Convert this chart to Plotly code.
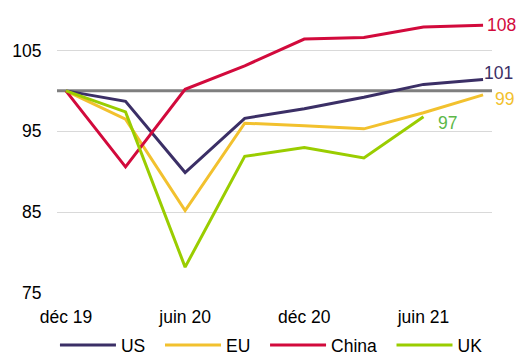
import plotly.graph_objects as go

quarters = ["déc 19", "mar 20", "juin 20", "sep 20", "déc 20", "mar 21", "juin 21", "sep 21"]
tick_idx = [0, 2, 4, 6]
tick_labels = ["déc 19", "juin 20", "déc 20", "juin 21"]

us = [100, 98.7, 89.9, 96.6, 97.8, 99.2, 100.8, 101.4]
eu = [100, 96.5, 85.2, 96.0, 95.7, 95.3, 97.3, 99.5]
china = [100, 90.6, 100.2, 103.1, 106.4, 106.6, 107.9, 108.1]
uk = [100, 97.4, 78.2, 91.9, 93.0, 91.7, 96.8]

colors = {"US": "#3B2F66", "EU": "#F2C12E", "China": "#D20A3C", "UK": "#9ACD00"}
label_colors = {"US": "#3B2F66", "EU": "#F2C12E", "China": "#D20A3C", "UK": "#5CB848"}
series = [("US", us), ("EU", eu), ("China", china), ("UK", uk)]

FONT = "Liberation Sans, Arial, sans-serif"
PAD = "\u00a0\u00a0"
fig = go.Figure()
for name, vals in series:
    fig.add_trace(go.Scatter(x=list(range(len(vals))), y=vals, mode="lines",
                             name=name + (PAD if name != "UK" else ""),
                             line=dict(color=colors[name], width=3)))

fig.add_shape(type="line", xref="paper", yref="y", x0=0, x1=1, y0=100, y1=100,
              line=dict(color="#7F7F7F", width=3), layer="below")

end_labels = [("China", 7, china[7], 2, 0, "108"),
              ("US", 7, us[7], -1, 7, "101"),
              ("EU", 7, eu[7], 10, -4, "99"),
              ("UK", 6, uk[6], 13, -6, "97")]
for name, xi, yv, xs, ys, txt in end_labels:
    fig.add_annotation(x=xi, y=yv, xref="x", yref="y", text=txt, showarrow=False,
                       xanchor="left", yanchor="middle", xshift=xs, yshift=ys,
                       font=dict(color=label_colors[name], size=17.5, family=FONT))

fig.update_layout(
    width=532, height=356,
    margin=dict(l=57, r=40, t=10, b=63, autoexpand=False),
    paper_bgcolor="white", plot_bgcolor="white",
    font=dict(family=FONT, size=17.5, color="#000000"),
    showlegend=True,
    legend=dict(orientation="h", x=0.493, xanchor="center",
                y=-0.184, yanchor="middle",
                font=dict(size=17.5), tracegroupgap=0, itemwidth=56),
    xaxis=dict(range=[-0.15, 7.15], tickvals=tick_idx, ticktext=tick_labels,
               showgrid=False, zeroline=False, showline=False, automargin=False,
               ticks="outside", ticklen=8, tickcolor="rgba(0,0,0,0)"),
    yaxis=dict(range=[75, 110], tickvals=[75, 85, 95, 105], showgrid=True,
               gridcolor="#D9D9D9", gridwidth=1, zeroline=False, showline=False,
               automargin=False,
               ticks="outside", ticklen=11, tickcolor="rgba(0,0,0,0)"),
)
fig.write_html("out.html")
